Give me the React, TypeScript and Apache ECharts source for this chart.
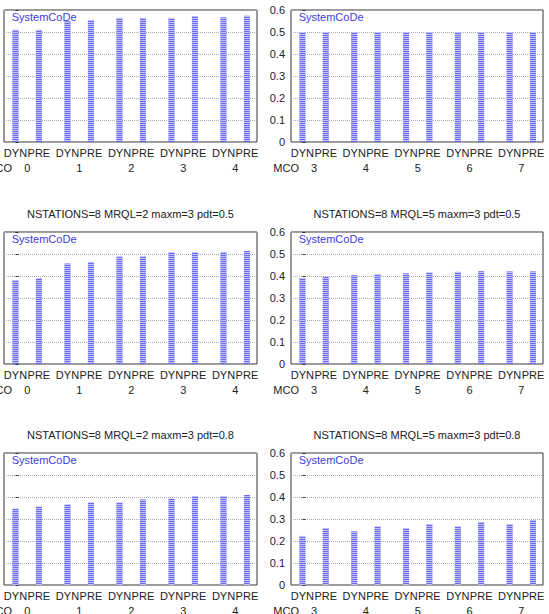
import React, { useEffect, useRef } from 'react';
import * as echarts from 'echarts';

const groupsLeft = ['0', '1', '2', '3', '4'];
const groupsRight = ['3', '4', '5', '6', '7'];
const barNames = ['DYN', 'PRE'];
const legendName = 'SystemCoDe';
const axisName = 'MCO';

const tlDyn = [0.51, 0.549, 0.564, 0.564, 0.567];
const tlPre = [0.51, 0.555, 0.563, 0.571, 0.574];
const trDyn = [0.5, 0.5, 0.5, 0.5, 0.5];
const trPre = [0.5, 0.5, 0.5, 0.5, 0.5];
const mlDyn = [0.382, 0.457, 0.488, 0.507, 0.507];
const mlPre = [0.389, 0.464, 0.488, 0.507, 0.514];
const mrDyn = [0.391, 0.404, 0.412, 0.419, 0.421];
const mrPre = [0.396, 0.407, 0.415, 0.422, 0.421];
const blDyn = [0.347, 0.365, 0.374, 0.392, 0.402];
const blPre = [0.356, 0.374, 0.389, 0.403, 0.409];
const brDyn = [0.223, 0.244, 0.258, 0.265, 0.276];
const brPre = [0.258, 0.265, 0.277, 0.285, 0.294];

const panelTitles = [
  '',
  '',
  'NSTATIONS=8 MRQL=2 maxm=3 pdt=0.5',
  'NSTATIONS=8 MRQL=5 maxm=3 pdt=0.5',
  'NSTATIONS=8 MRQL=2 maxm=3 pdt=0.8',
  'NSTATIONS=8 MRQL=5 maxm=3 pdt=0.8',
];

const panels = [
  { groups: groupsLeft, dyn: tlDyn, pre: tlPre },
  { groups: groupsRight, dyn: trDyn, pre: trPre },
  { groups: groupsLeft, dyn: mlDyn, pre: mlPre },
  { groups: groupsRight, dyn: mrDyn, pre: mrPre },
  { groups: groupsLeft, dyn: blDyn, pre: blPre },
  { groups: groupsRight, dyn: brDyn, pre: brPre },
];

const FONT = 'Liberation Sans, Arial, sans-serif';
const COL_LEFT = [4, 291];
const COL_W = [253, 252];
const ROW_TOP = [10, 232, 453];
const GRID_H = 132;
const STEP = 2.22;
const X_MIN = -0.49;
const X_MAX = 10.31;
const TEXT = '#222';

function buildOption() {
  const grids: any[] = [];
  const xAxes: any[] = [];
  const yAxes: any[] = [];
  const series: any[] = [];
  const titles: any[] = [];

  panels.forEach((p, i) => {
    const col = i % 2;
    const row = Math.floor(i / 2);
    const left = COL_LEFT[col];
    const top = ROW_TOP[row];
    const width = COL_W[col];
    grids.push({
      left,
      top,
      width,
      height: GRID_H,
      show: true,
      borderColor: '#333',
      borderWidth: 1,
      backgroundColor: 'transparent',
      containLabel: false,
      outerBoundsMode: 'none',
    });
    const positions: number[] = [];
    p.groups.forEach((_, g) => {
      positions.push(g * STEP, g * STEP + 1);
    });
    const centers = p.groups.map((_, g) => g * STEP + 0.5);

    xAxes.push({
      type: 'value',
      gridIndex: i,
      min: X_MIN,
      max: X_MAX,
      position: 'bottom',
      axisLine: { show: false },
      axisTick: { show: false },
      splitLine: { show: false },
      axisLabel: {
        customValues: positions,
        margin: 5,
        fontSize: 11,
        color: TEXT,
        fontFamily: FONT,
        formatter: (v: number) => {
          const k = positions.findIndex((pp) => Math.abs(pp - v) < 1e-6);
          return k < 0 ? '' : barNames[k % 2];
        },
      },
    });
    xAxes.push({
      type: 'value',
      gridIndex: i,
      min: X_MIN,
      max: X_MAX,
      position: 'bottom',
      offset: 26,
      name: axisName,
      nameLocation: 'start',
      nameGap: -8,
      nameTextStyle: { fontSize: 11, color: TEXT, fontFamily: FONT },
      axisLine: { show: false },
      axisTick: { show: false },
      splitLine: { show: false },
      axisLabel: {
        customValues: centers,
        margin: 0,
        verticalAlign: 'middle',
        fontSize: 11,
        color: TEXT,
        fontFamily: FONT,
        formatter: (v: number) => {
          const k = centers.findIndex((c) => Math.abs(c - v) < 1e-6);
          return k < 0 ? '' : p.groups[k];
        },
      },
    });
    yAxes.push({
      type: 'value',
      gridIndex: i,
      min: 0,
      max: 0.6,
      interval: 0.1,
      axisLine: { show: false },
      axisTick: { show: true, inside: true, length: 3, lineStyle: { color: '#333' } },
      splitLine: { show: true, lineStyle: { type: 'dotted', color: '#aaa', width: 1 } },
      axisLabel: {
        show: col === 1,
        margin: 6,
        fontSize: 11,
        color: TEXT,
        fontFamily: FONT,
        formatter: (v: number) => String(Math.round(v * 10) / 10),
      },
    });

    const data: number[][] = [];
    p.groups.forEach((_, g) => {
      data.push([g * STEP, p.dyn[g]]);
      data.push([g * STEP + 1, p.pre[g]]);
    });
    series.push({
      type: 'bar',
      name: legendName,
      xAxisIndex: i * 2,
      yAxisIndex: i,
      barWidth: 6,
      data,
      itemStyle: {
        color: '#6a6af0',
        decal: {
          symbol: 'rect',
          symbolSize: 1,
          symbolKeepAspect: false,
          dashArrayX: [10, 0],
          dashArrayY: [1, 1],
          rotation: 0,
          color: 'rgba(225,225,255,0.75)',
        },
      },
    });

    if (panelTitles[i]) {
      titles.push({
        text: panelTitles[i],
        left: left + width / 2,
        top: top - 18,
        textAlign: 'center',
        textVerticalAlign: 'middle',
        padding: 0,
        textStyle: { fontSize: 11, fontWeight: 'normal', color: TEXT, fontFamily: FONT },
      });
    }
    titles.push({
      text: legendName,
      left: left + 7.7,
      top: top + 7.3,
      textAlign: 'left',
      textVerticalAlign: 'middle',
      padding: 0,
      textStyle: { fontSize: 11, fontWeight: 'normal', color: '#3c3cdc', fontFamily: FONT },
    });
  });

  return {
    animation: false,
    backgroundColor: '#fff',
    title: titles,
    grid: grids,
    xAxis: xAxes,
    yAxis: yAxes,
    series,
  };
}

export default function App() {
  const ref = useRef<HTMLDivElement>(null);
  useEffect(() => {
    if (!ref.current) return;
    const chart = echarts.init(ref.current, undefined, { renderer: 'svg' });
    chart.setOption(buildOption() as any);
    return () => chart.dispose();
  }, []);
  return (
    <div
      ref={ref}
      style={{ position: 'absolute', left: 0, top: 0, width: 549, height: 614 }}
    />
  );
}
